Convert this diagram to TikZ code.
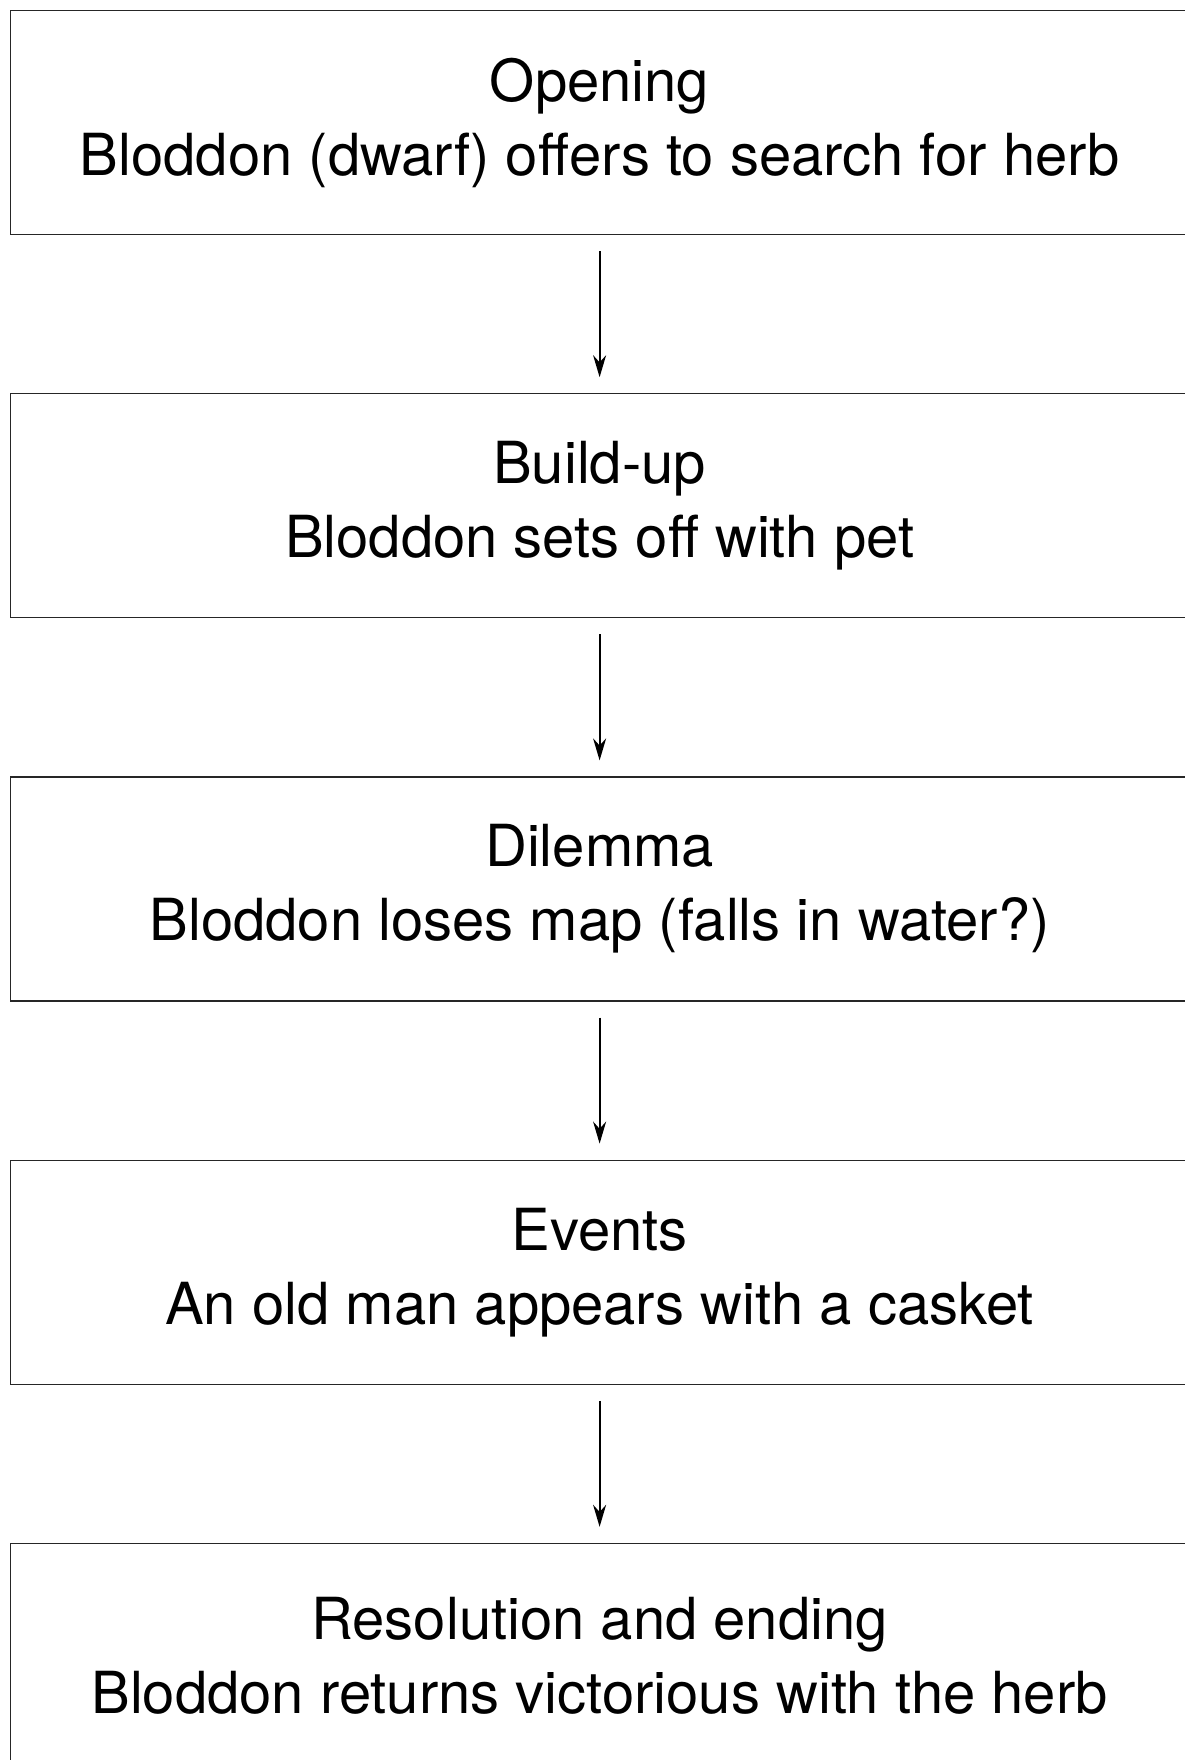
\documentclass[tikz,border=0pt]{standalone}
\usepackage{fontspec}
\setmainfont{TeX Gyre Heros}
\usetikzlibrary{arrows.meta, positioning}

\begin{document}
\begin{tikzpicture}[
			node distance=79pt,
			stage/.style={rectangle, draw=black!85, line width=0.6pt, minimum width=589pt, minimum height=112pt, inner sep=0pt, align=center, font=\fontsize{29}{37}\selectfont},
			arrow/.style={-{Stealth[length=11pt, width=6.5pt]}, line width=1pt, shorten >=8pt, shorten <=8pt}
			]
			\useasboundingbox (0,0) rectangle (592pt,-880pt);
			\node[stage, anchor=north west] (opening) at (5pt,-5pt) {Opening\\Bloddon (dwarf) offers to search for herb};
			\node[stage, below=of opening] (buildup) {Build-up\\Bloddon sets off with pet};
			\node[stage, below=of buildup] (dilemma) {Dilemma\\Bloddon loses map (falls in water?)};
			\node[stage, below=of dilemma] (events) {Events\\An old man appears with a casket};
			\node[stage, below=of events] (ending) {Resolution and ending\\Bloddon returns victorious with the herb};
			
			\draw[arrow] (opening) -- (buildup);
			\draw[arrow] (buildup) -- (dilemma);
			\draw[arrow] (dilemma) -- (events);
			\draw[arrow] (events) -- (ending);
		\end{tikzpicture}
\end{document}
